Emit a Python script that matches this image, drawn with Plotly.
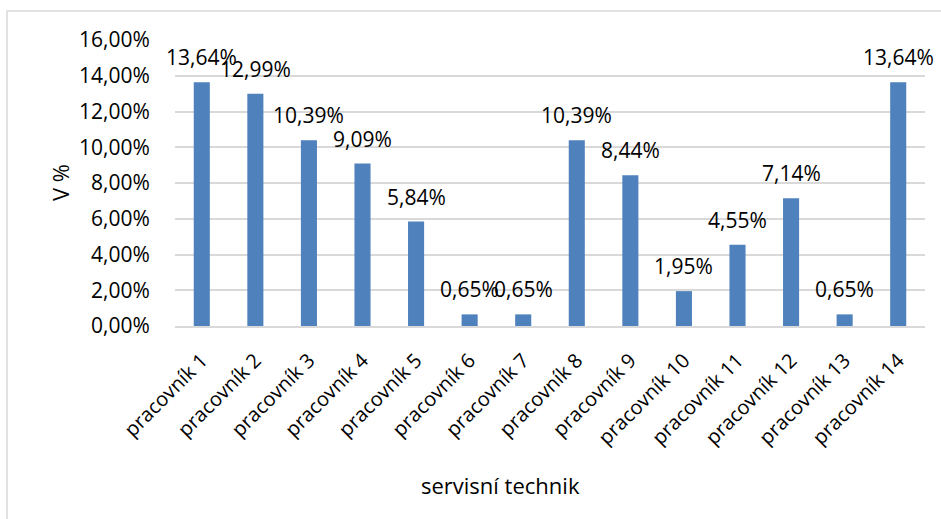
import plotly.graph_objects as go

categories = [f"pracovník {i}" for i in range(1, 15)]
values = [0.1364, 0.1299, 0.1039, 0.0909, 0.0584, 0.0065, 0.0065,
          0.1039, 0.0844, 0.0195, 0.0455, 0.0714, 0.0065, 0.1364]
y_ticks = [0, 0.02, 0.04, 0.06, 0.08, 0.10, 0.12, 0.14, 0.16]

FONT = "Open Sans"
FS = 21
W, H = 941, 519
ML, MR, MT, MB = 175, 16, 40, 193
pw, ph = W - ML - MR, H - MT - MB

fig = go.Figure()
fig.add_trace(go.Bar(x=categories, y=values, marker=dict(color="#4F81BD", line=dict(width=0)),
                     width=0.3))

annotations = []
for c, v in zip(categories, values):
    annotations.append(dict(x=c, y=v, xref="x", yref="y", text=f"{v*100:.2f}%".replace(".", ","),
                            showarrow=False, yshift=25, yanchor="middle",
                            font=dict(family=FONT, size=FS, color="#000000")))
annotations.append(dict(x=(500 - ML) / pw, y=-(485 - MT - ph) / ph, xref="paper", yref="paper",
                        text="servisní technik", showarrow=False, xanchor="center", yanchor="middle",
                        font=dict(family=FONT, size=22, color="#000000")))
annotations.append(dict(x=(60 - ML) / pw, y=0.5, xref="paper", yref="paper", text="V %",
                        textangle=-90, showarrow=False, xanchor="center", yanchor="middle",
                        font=dict(family=FONT, size=22, color="#000000")))

fig.update_layout(
    width=W, height=H,
    margin=dict(l=ML, r=MR, t=MT, b=MB, autoexpand=False),
    paper_bgcolor="white", plot_bgcolor="white",
    separators=", ",
    showlegend=False,
    annotations=annotations,
    font=dict(family=FONT, size=FS, color="#000000"),
    shapes=[dict(type="rect", xref="paper", yref="paper",
                 x0=(7 - ML) / pw, x1=1.2, y0=-1.0, y1=1 + (MT - 11) / ph,
                 line=dict(color="#d9d9d9", width=1.5), layer="below")],
)
fig.update_xaxes(tickangle=-45, showgrid=False, showline=True, linecolor="#d9d9d9", linewidth=1.5,
                 range=[-0.5, len(categories) - 0.5],
                 ticks="outside", ticklen=13, tickcolor="rgba(0,0,0,0)", automargin=False,
                 tickfont=dict(family=FONT, size=FS - 1, color="#000000"))
fig.update_yaxes(range=[0, 0.16], tickvals=y_ticks, tickformat=".2%", showgrid=True,
                 gridcolor="#d9d9d9", gridwidth=1.5, zeroline=False, automargin=False,
                 ticks="outside", ticklen=20, tickcolor="rgba(0,0,0,0)",
                 tickfont=dict(family=FONT, size=FS, color="#000000"))

fig.write_html("out.html")
